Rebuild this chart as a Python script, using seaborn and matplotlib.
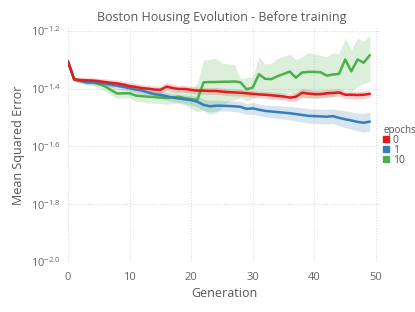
import matplotlib
matplotlib.use("Agg")
import matplotlib.pyplot as plt
from matplotlib.lines import Line2D
import numpy as np
import pandas as pd
import seaborn as sns

# log10(MSE) per generation
generations = list(range(50))
epochs = ["0", "1", "10"]
colors = {"0": "#e41a1c", "1": "#377eb8", "10": "#4daf4a"}

red_mean = [-1.306, -1.368, -1.370, -1.371, -1.372, -1.374, -1.377, -1.380, -1.382, -1.386,
            -1.391, -1.394, -1.398, -1.400, -1.403, -1.404, -1.393, -1.398, -1.401, -1.401,
            -1.404, -1.407, -1.407, -1.408, -1.408, -1.410, -1.412, -1.413, -1.414, -1.416,
            -1.418, -1.420, -1.421, -1.423, -1.425, -1.427, -1.431, -1.428, -1.414, -1.417,
            -1.419, -1.419, -1.416, -1.415, -1.413, -1.421, -1.421, -1.422, -1.421, -1.418]
red_spread = [0.004, 0.006, 0.008, 0.009, 0.010, 0.010, 0.011, 0.011, 0.012, 0.012,
              0.012, 0.012, 0.012, 0.012, 0.012, 0.013, 0.014, 0.013, 0.012, 0.012,
              0.012, 0.012, 0.012, 0.012, 0.012, 0.012, 0.012, 0.012, 0.012, 0.012,
              0.012, 0.012, 0.012, 0.012, 0.012, 0.012, 0.013, 0.015, 0.015, 0.014,
              0.013, 0.013, 0.013, 0.013, 0.013, 0.013, 0.013, 0.013, 0.013, 0.013]

blue_mean = [-1.306, -1.368, -1.373, -1.378, -1.378, -1.381, -1.382, -1.386, -1.390, -1.394,
             -1.398, -1.403, -1.406, -1.413, -1.419, -1.422, -1.426, -1.431, -1.434, -1.437,
             -1.440, -1.445, -1.456, -1.461, -1.459, -1.459, -1.460, -1.461, -1.463, -1.470,
             -1.468, -1.473, -1.477, -1.479, -1.481, -1.483, -1.485, -1.488, -1.491, -1.494,
             -1.495, -1.496, -1.497, -1.495, -1.501, -1.506, -1.510, -1.515, -1.518, -1.514]
blue_spread = [0.004, 0.006, 0.008, 0.008, 0.008, 0.008, 0.009, 0.009, 0.010, 0.010,
               0.010, 0.011, 0.012, 0.012, 0.012, 0.012, 0.013, 0.013, 0.014, 0.015,
               0.017, 0.019, 0.020, 0.020, 0.019, 0.018, 0.018, 0.018, 0.019, 0.019,
               0.020, 0.020, 0.021, 0.021, 0.022, 0.022, 0.023, 0.024, 0.025, 0.025,
               0.025, 0.025, 0.025, 0.025, 0.027, 0.029, 0.030, 0.031, 0.032, 0.033]

green_mean = [-1.306, -1.368, -1.372, -1.376, -1.378, -1.384, -1.392, -1.405, -1.417, -1.416,
              -1.416, -1.424, -1.426, -1.428, -1.429, -1.431, -1.432, -1.430, -1.428, -1.433,
              -1.436, -1.439, -1.378, -1.377, -1.377, -1.376, -1.376, -1.375, -1.378, -1.402,
              -1.396, -1.350, -1.366, -1.367, -1.357, -1.349, -1.341, -1.362, -1.344, -1.342,
              -1.342, -1.343, -1.355, -1.351, -1.349, -1.299, -1.340, -1.299, -1.310, -1.284]
green_hi = [-1.302, -1.361, -1.364, -1.366, -1.366, -1.370, -1.376, -1.388, -1.400, -1.400,
            -1.400, -1.405, -1.406, -1.407, -1.408, -1.410, -1.410, -1.408, -1.406, -1.408,
            -1.405, -1.380, -1.300, -1.298, -1.295, -1.312, -1.314, -1.316, -1.366, -1.362,
            -1.360, -1.291, -1.315, -1.312, -1.295, -1.288, -1.280, -1.300, -1.290, -1.275,
            -1.280, -1.285, -1.289, -1.277, -1.278, -1.225, -1.266, -1.225, -1.237, -1.214]
green_lo = [-1.310, -1.375, -1.380, -1.386, -1.390, -1.398, -1.408, -1.422, -1.434, -1.432,
            -1.432, -1.443, -1.446, -1.449, -1.450, -1.452, -1.454, -1.452, -1.450, -1.458,
            -1.467, -1.480, -1.475, -1.488, -1.485, -1.465, -1.445, -1.438, -1.432, -1.442,
            -1.435, -1.422, -1.420, -1.420, -1.420, -1.420, -1.412, -1.425, -1.432, -1.432,
            -1.432, -1.432, -1.430, -1.428, -1.418, -1.400, -1.410, -1.392, -1.382, -1.376]

x_ticks = [0, 10, 20, 30, 40, 50]
y_ticks = [-2.0, -1.8, -1.6, -1.4, -1.2]

sns.set_theme(style="white")
plt.rcParams.update({
    "font.family": ["Open Sans", "DejaVu Sans"],
    "mathtext.fontset": "custom",
    "mathtext.rm": "Open Sans",
    "mathtext.it": "Open Sans:italic",
    "mathtext.bf": "Open Sans:bold",
})

rows = []
for ep, vals in zip(epochs, [red_mean, blue_mean, green_mean]):
    for g, v in zip(generations, vals):
        rows.append({"generation": g, "log_mse": v, "epochs": ep})
df = pd.DataFrame(rows)

fig = plt.figure(figsize=(4.15, 3.12), dpi=100)
ax = fig.add_axes([68 / 415, 1 - 262 / 312, 312 / 415, 234 / 312])

gen = np.array(generations)
ax.fill_between(gen, np.array(red_mean) - np.array(red_spread), np.array(red_mean) + np.array(red_spread),
                color=colors["0"], alpha=0.2, linewidth=0)
ax.fill_between(gen, np.array(blue_mean) - np.array(blue_spread), np.array(blue_mean) + np.array(blue_spread),
                color=colors["1"], alpha=0.2, linewidth=0)
ax.fill_between(gen, green_lo, green_hi, color=colors["10"], alpha=0.2, linewidth=0)

sns.lineplot(data=df, x="generation", y="log_mse", hue="epochs", hue_order=["10", "1", "0"],
             palette=colors, linewidth=1.8, ax=ax, legend=False)

ax.set_xlim(0, 50.65)
ax.set_ylim(-2.0, -1.19)
ax.set_xticks(x_ticks)
ax.set_yticks(y_ticks)
ax.set_yticklabels([r"$10^{%.1f}$" % t for t in y_ticks])
ax.grid(True, color="#dcdcea", linestyle=(0, (1, 1.5)), linewidth=0.8)
for s in ax.spines.values():
    s.set_visible(False)
ax.tick_params(axis="both", labelsize=8, colors="#666666", length=0)
ax.tick_params(axis="x", pad=7)
ax.tick_params(axis="y", pad=5)

ax.set_xlabel("Generation", fontsize=9, color="#555555", labelpad=3)
ax.set_ylabel("Mean Squared Error", fontsize=9, color="#555555", labelpad=4)
fig.text(222 / 415, 1 - 17 / 312, "Boston Housing Evolution - Before training",
         ha="center", va="center", fontsize=9, color="#555555")

handles = [Line2D([], [], marker="s", linestyle="none", markersize=4, color=colors[e]) for e in epochs]
leg = fig.legend(handles, epochs, title="epochs", loc="upper left",
                 bbox_to_anchor=(379 / 415, 1 - 121 / 312), frameon=False,
                 fontsize=7.5, title_fontsize=7, handlelength=0.6, handletextpad=0.3,
                 labelspacing=-0.1, borderaxespad=0)
leg._legend_box.align = "left"
for t in leg.get_texts():
    t.set_color("#555555")
leg.get_title().set_color("#555555")

fig.savefig("out.png", dpi=100)
